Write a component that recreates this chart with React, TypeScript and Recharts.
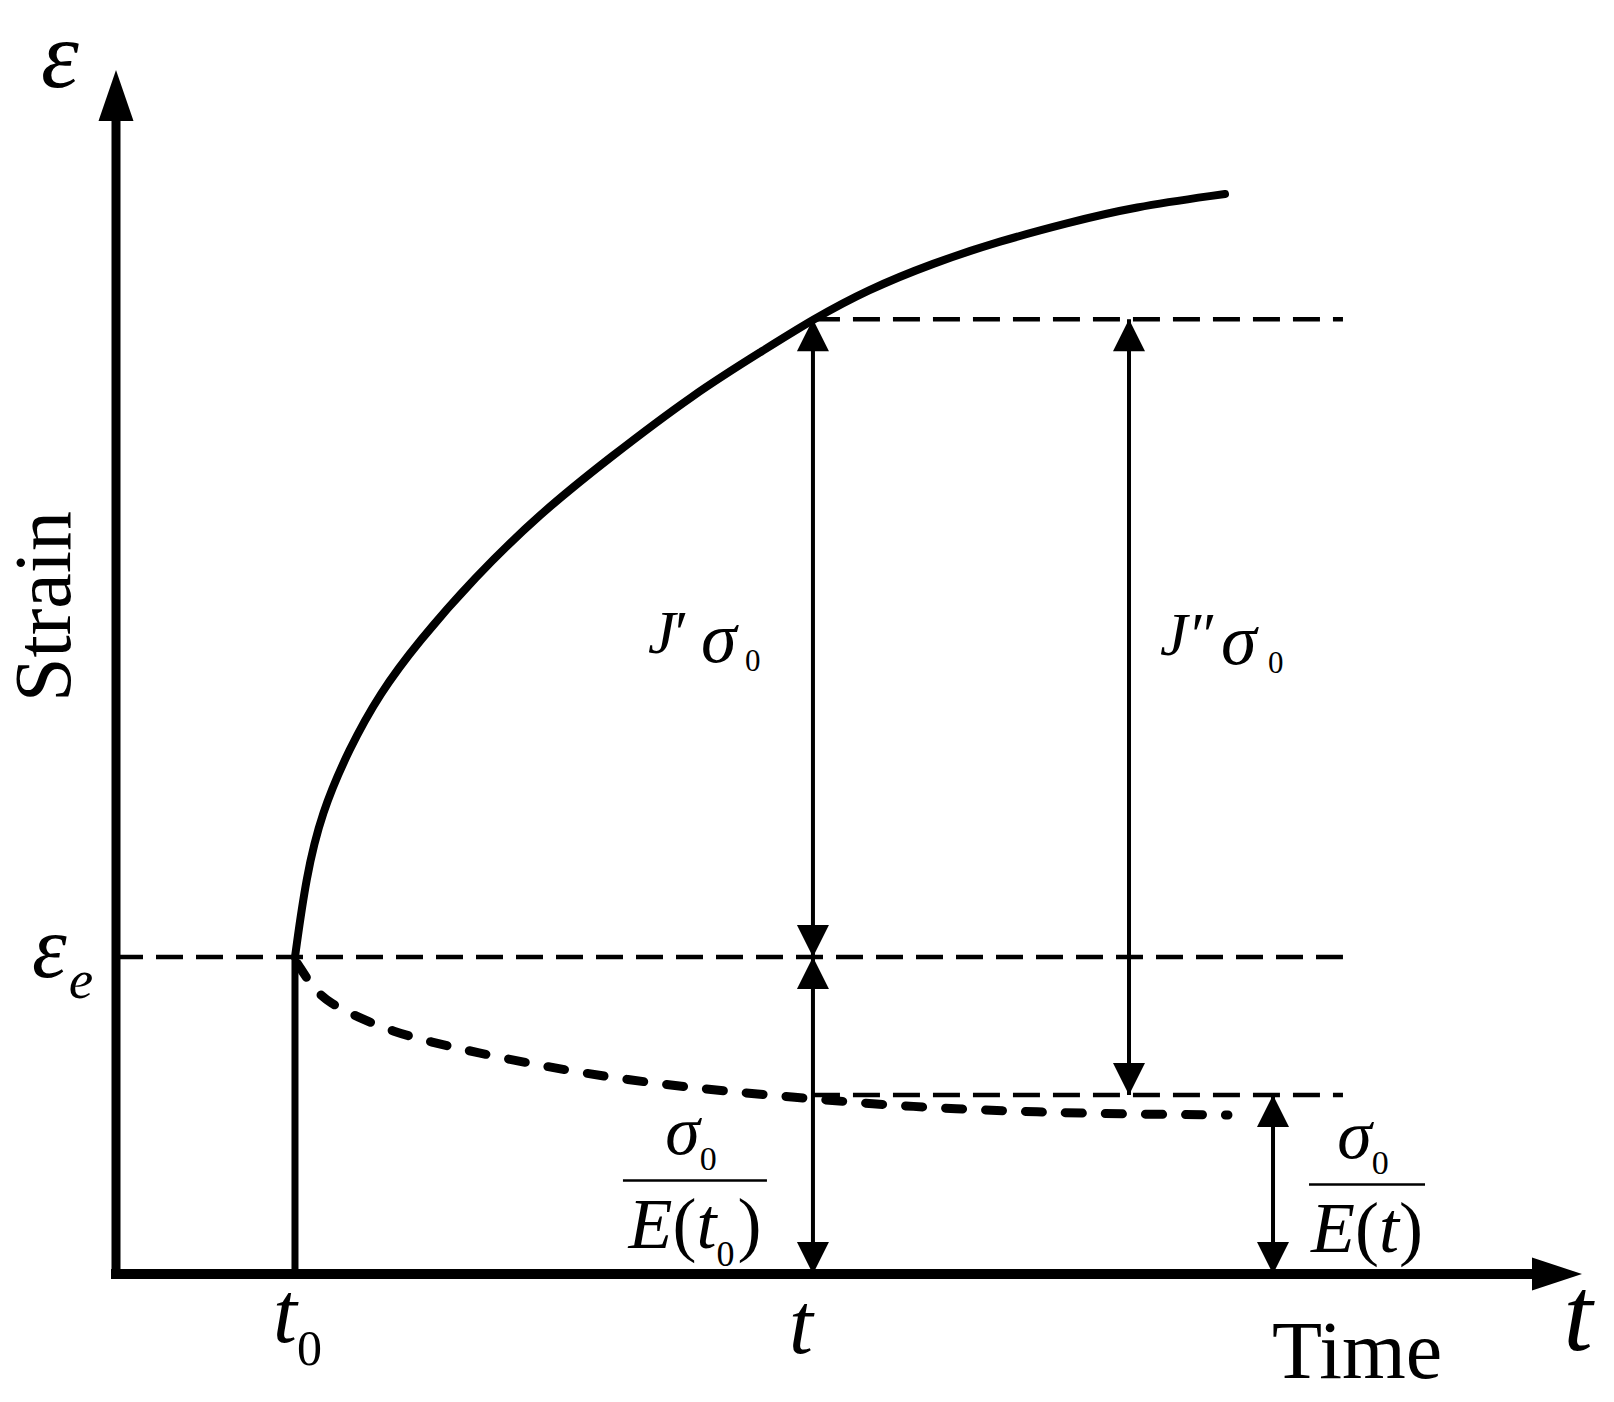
import { ComposedChart, Line, XAxis, YAxis, ReferenceLine, ReferenceDot } from "recharts";

const SERIF = '"Liberation Serif", "Times New Roman", Times, serif';
const INK = "#000";

const WIDTH = 1614;
const HEIGHT = 1402;

// both axes run 0..100 (abstract units) up to the arrow bases
const X_MAX = 100;
const Y_MAX = 100;

// time marks
const T0 = 12.64;
const T = 49.22;
const T_J2 = 71.54;
const T_E = 81.71;
const GUIDE_END = 86.65;

// strain levels
const EPS_E = 27.49;
const EPS_TOP = 82.8;
const EPS_LOW = 15.52;

// total strain (solid curve)
const creepTime = [12.64, 13.42, 14.51, 16.45, 18.64, 21.33, 25.28, 29.91, 34.82, 40.89, 45.76, 49.22, 53.04, 57.7, 62.43, 67.16, 71.82, 78.32];
const creepStrain = [27.49, 34.43, 39.98, 45.53, 50.39, 54.81, 60.36, 65.92, 70.77, 76.41, 80.14, 82.8, 85.34, 87.68, 89.59, 91.15, 92.54, 93.67];

// elastic strain sigma0/E(t) (dashed curve)
const elasticTime = [12.78, 14.02, 15.11, 17.02, 19.63, 22.25, 25.28, 30.44, 36.09, 42.09, 47.74, 53.39, 59.39, 65.04, 70.69, 78.53];
const elasticStrain = [26.97, 24.63, 23.5, 22.29, 20.99, 20.12, 19.25, 17.95, 16.83, 15.96, 15.35, 14.74, 14.31, 14.05, 13.88, 13.79];

const timeTicks = [T0, T];
const timeTickLabels = [
  { main: "t", sub: "0" },
  { main: "t", sub: "" },
];
const strainTicks = [EPS_E];
const strainTickLabels = [{ main: "ε", sub: "e" }];

const dimArrows = [
  { id: "jPrime", x: T, from: EPS_E, to: EPS_TOP },
  { id: "elastic0", x: T, from: 0, to: EPS_E },
  { id: "jDouble", x: T_J2, from: EPS_LOW, to: EPS_TOP },
  { id: "elasticT", x: T_E, from: 0, to: EPS_LOW },
];

const guides = [
  { id: "ee", from: 0, to: GUIDE_END, y: EPS_E },
  { id: "top", from: T, to: GUIDE_END, y: EPS_TOP },
  { id: "low", from: T, to: GUIDE_END, y: EPS_LOW },
];

const creepData = creepTime.map((x, i) => ({ x, y: creepStrain[i] }));
const elasticData = elasticTime.map((x, i) => ({ x, y: elasticStrain[i] }));
const instantData = [
  { x: T0, y: 0 },
  { x: T0, y: EPS_E },
];

// pixel nudges for tick text
const timeTickNudge = [
  { dx: -22, dy: 60, subDy: 23 },
  { dx: -24, dy: 71, subDy: 0 },
];

function TimeTick(props: any) {
  const { x, y, payload } = props;
  const i = timeTicks.indexOf(payload.value);
  if (i < 0) return <g />;
  const lab = timeTickLabels[i];
  const n = timeTickNudge[i];
  return (
    <text x={x + n.dx} y={y + n.dy} fontFamily={SERIF} fontSize={86} fontStyle="italic" fill={INK}>
      {lab.main}
      {lab.sub && (
        <tspan fontStyle="normal" fontSize={50} dy={n.subDy}>
          {lab.sub}
        </tspan>
      )}
    </text>
  );
}

function StrainTick(props: any) {
  const { x, y, payload } = props;
  const i = strainTicks.indexOf(payload.value);
  if (i < 0) return <g />;
  const lab = strainTickLabels[i];
  return (
    <text x={x - 76} y={y + 20} fontFamily={SERIF} fontSize={88} fontStyle="italic" fill={INK}>
      {lab.main}
      <tspan fontSize={55} dy={21} dx={2}>
        {lab.sub}
      </tspan>
    </text>
  );
}

function StrainTitle(props: any) {
  const { x, y, height } = props.viewBox;
  const cy = y + height / 2 - 91;
  return (
    <g fontFamily={SERIF} fill={INK}>
      <text x={x - 74} y={y - 34} fontSize={96} fontStyle="italic">
        ε
      </text>
      <text x={x - 45} y={cy} fontSize={80} textAnchor="middle" transform={`rotate(-90 ${x - 45} ${cy})`}>
        Strain
      </text>
    </g>
  );
}

function TimeTitle(props: any) {
  const { x, y, width } = props.viewBox;
  return (
    <g fontFamily={SERIF} fill={INK}>
      <text x={x + width - 260} y={y + 104} fontSize={82}>
        Time
      </text>
      <text x={x + width + 46} y={y + 76} fontSize={105} fontStyle="italic" textAnchor="middle">
        t
      </text>
    </g>
  );
}

function DimHead(props: any) {
  const { cx, cy, index } = props;
  if (cx == null || cy == null) return <g key={`h${index}`} />;
  const h = 32;
  const w = 16;
  const s = index === 1 ? 1 : -1; // 1: points up, -1: points down
  const d = `M${cx},${cy} L${cx - w},${cy + s * h} L${cx + w},${cy + s * h} Z`;
  return <path key={`h${index}`} d={d} fill={INK} />;
}

function YAxisHead(props: any) {
  const { cx, cy, index } = props;
  if (index !== 1 || cx == null) return <g key={`y${index}`} />;
  return <path key={`y${index}`} d={`M${cx},${cy - 51} L${cx - 17.5},${cy} L${cx + 17.5},${cy} Z`} fill={INK} />;
}

function XAxisHead(props: any) {
  const { cx, cy, index } = props;
  if (index !== 1 || cx == null) return <g key={`x${index}`} />;
  return <path key={`x${index}`} d={`M${cx + 50},${cy} L${cx},${cy - 16.5} L${cx},${cy + 16.5} Z`} fill={INK} />;
}

function JLabel({ cx, cy, primes, layout }: any) {
  return (
    <g fontFamily={SERIF} fill={INK}>
      <text x={cx + layout.j} y={cy + layout.base} fontSize={62} fontStyle="italic">
        J
      </text>
      <text x={cx + layout.p} y={cy + layout.base} fontSize={62}>
        {primes}
      </text>
      <text x={cx + layout.s} y={cy + layout.base + 9} fontSize={72} fontStyle="italic">
        σ
      </text>
      <text x={cx + layout.z} y={cy + layout.base + 18} fontSize={31}>
        0
      </text>
    </g>
  );
}

function Fraction({ cx, cy, half, denSub }: any) {
  return (
    <g fontFamily={SERIF} fill={INK}>
      <text x={cx - 4} y={cy - 27} fontSize={70} fontStyle="italic" textAnchor="middle">
        σ
        <tspan fontStyle="normal" fontSize={34} dy={16}>
          0
        </tspan>
      </text>
      <line x1={cx - half} x2={cx + half} y1={cy} y2={cy} stroke={INK} strokeWidth={2.5} />
      <text x={cx} y={cy + 67} fontSize={72} textAnchor="middle">
        <tspan fontStyle="italic">E</tspan>(<tspan fontStyle="italic">t</tspan>
        {denSub ? (
          <>
            <tspan fontSize={36} dy={18}>
              {denSub}
            </tspan>
            <tspan dy={-18} dx={3}>
              )
            </tspan>
          </>
        ) : (
          ")"
        )}
      </text>
    </g>
  );
}

const annotations = [
  { id: "jPrime", x: T, y: (EPS_E + EPS_TOP) / 2 },
  { id: "jDouble", x: T_J2, y: (EPS_LOW + EPS_TOP) / 2 },
  { id: "fracT0", x: T, y: EPS_LOW / 2 },
  { id: "fracT", x: T_E, y: EPS_LOW / 2 },
];

function renderAnnotation(id: string, cx: number, cy: number) {
  switch (id) {
    case "jPrime":
      return <JLabel cx={cx} cy={cy} primes={"′"} layout={{ j: -165, p: -138, s: -112, z: -68, base: 15 }} />;
    case "jDouble":
      return <JLabel cx={cx} cy={cy} primes={"″"} layout={{ j: 31, p: 62, s: 92, z: 139, base: -52 }} />;
    case "fracT0":
      return <Fraction cx={cx - 118} cy={cy - 4} half={72} denSub="0" />;
    case "fracT":
      return <Fraction cx={cx + 94} cy={cy} half={58} denSub="" />;
    default:
      return null;
  }
}

const seriesBase = {
  dataKey: "y",
  stroke: INK,
  activeDot: false,
  legendType: "none" as const,
  isAnimationActive: false,
};

export default function App() {
  return (
    <div style={{ position: "absolute", left: 0, top: 0, width: WIDTH, height: HEIGHT, background: "#fff" }}>
      <ComposedChart width={WIDTH} height={HEIGHT} margin={{ top: 121, right: 82, bottom: 127, left: 115 }}>
        <XAxis
          type="number"
          dataKey="x"
          domain={[0, X_MAX]}
          ticks={timeTicks}
          interval={0}
          tick={TimeTick}
          axisLine={false}
          tickLine={false}
          height={1}
          label={TimeTitle}
        />
        <YAxis
          type="number"
          dataKey="y"
          domain={[0, Y_MAX]}
          ticks={strainTicks}
          interval={0}
          tick={StrainTick}
          axisLine={false}
          tickLine={false}
          width={1}
          label={StrainTitle}
        />

        {guides.map((g) => (
          <ReferenceLine
            key={g.id}
            segment={[
              { x: g.from, y: g.y },
              { x: g.to, y: g.y },
            ]}
            stroke={INK}
            strokeWidth={4.5}
            strokeDasharray="27 13"
            ifOverflow="visible"
          />
        ))}

        <Line
          {...seriesBase}
          data={[
            { x: 0, y: 0 },
            { x: 0, y: Y_MAX },
          ]}
          type="linear"
          strokeWidth={9}
          strokeLinecap="square"
          dot={YAxisHead}
        />
        <Line
          {...seriesBase}
          data={[
            { x: 0, y: 0 },
            { x: X_MAX, y: 0 },
          ]}
          type="linear"
          strokeWidth={10}
          strokeLinecap="square"
          dot={XAxisHead}
        />

        <Line {...seriesBase} data={instantData} type="linear" strokeWidth={7} dot={false} />
        <Line {...seriesBase} data={creepData} type="basis" strokeWidth={8} strokeLinecap="round" dot={false} />
        <Line
          {...seriesBase}
          data={elasticData}
          type="basis"
          strokeWidth={9}
          strokeLinecap="round"
          strokeDasharray="17 23"
          dot={false}
        />

        {dimArrows.map((a) => (
          <Line
            key={a.id}
            {...seriesBase}
            data={[
              { x: a.x, y: a.from },
              { x: a.x, y: a.to },
            ]}
            type="linear"
            strokeWidth={4}
            dot={DimHead}
          />
        ))}

        {annotations.map((a) => (
          <ReferenceDot
            key={a.id}
            x={a.x}
            y={a.y}
            r={0}
            ifOverflow="visible"
            shape={(p: any) => <g>{renderAnnotation(a.id, p.cx, p.cy)}</g>}
          />
        ))}
      </ComposedChart>
    </div>
  );
}
